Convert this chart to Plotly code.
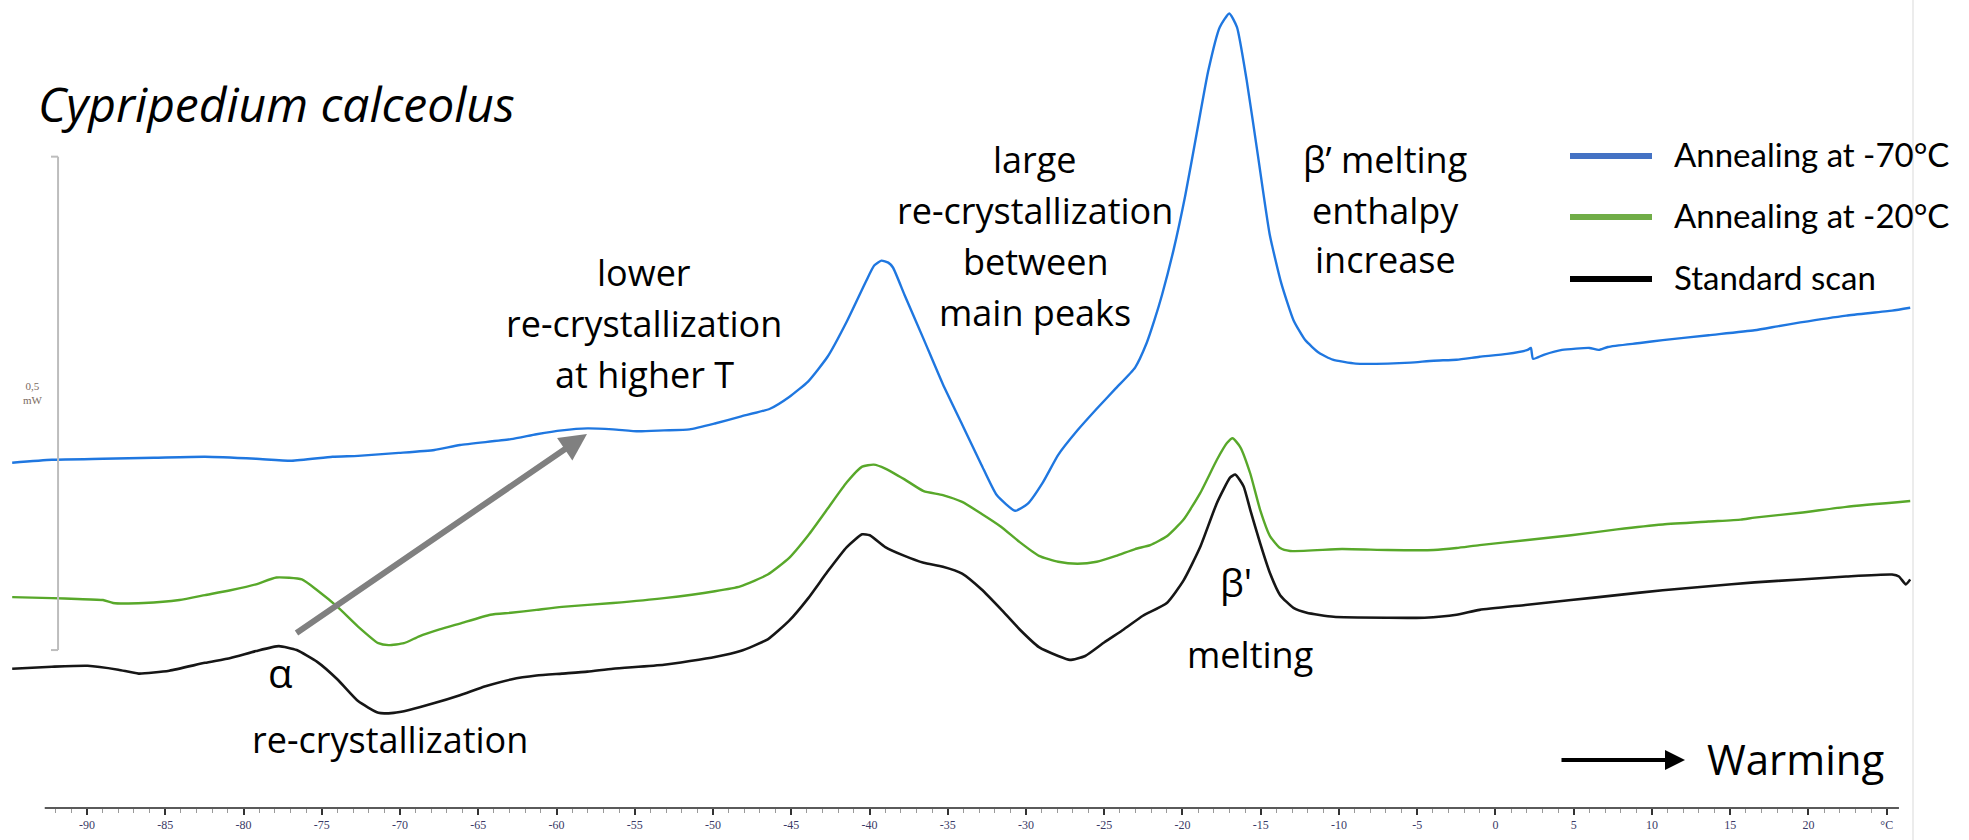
import plotly.graph_objects as go

# ---------------- data (temperature in °C, heat flow in mW, offset traces) -------------
series_names = ["Annealing at -70°C", "Annealing at -20°C", "Standard scan"]

blue_T = [-94.78, -92.24, -88.98, -85.72, -82.46, -79.20, -76.92, -74.31, -72.68, -70.07,
          -67.80, -66.17, -62.91, -61.28, -59.65, -58.02, -56.39, -54.76, -53.13, -51.50,
          -49.88, -48.25, -46.36, -45.13, -43.91, -42.68, -41.45, -40.22, -39.70, -39.24,
          -38.80, -38.50, -37.76, -36.54, -35.31, -34.08, -32.85, -31.87, -30.69, -29.90,
          -28.92, -27.94, -26.71, -25.48, -24.25, -23.03, -22.29, -21.80, -21.31, -20.57,
          -19.83, -19.10, -18.36, -17.62, -17.01, -16.52, -15.90, -15.17, -14.43, -13.69,
          -12.90, -12.16, -11.28, -10.40, -8.93, -6.88, -5.42, -3.95, -2.49, -1.02,
          0.73, 2.05, 2.26, 2.40, 3.08, 4.25, 6.00, 6.59, 7.18, 9.23,
          10.69, 13.62, 16.55, 18.01, 19.48, 22.41, 25.34, 26.50]
blue_v = [0.352, 0.355, 0.356, 0.357, 0.358, 0.356, 0.354, 0.358, 0.359, 0.362,
          0.365, 0.370, 0.376, 0.381, 0.385, 0.387, 0.386, 0.384, 0.385, 0.386,
          0.392, 0.399, 0.407, 0.419, 0.435, 0.460, 0.496, 0.537, 0.553, 0.558,
          0.556, 0.551, 0.523, 0.478, 0.432, 0.391, 0.350, 0.319, 0.303, 0.310,
          0.332, 0.360, 0.385, 0.407, 0.428, 0.449, 0.474, 0.497, 0.523, 0.569,
          0.624, 0.687, 0.751, 0.796, 0.810, 0.796, 0.742, 0.664, 0.585, 0.535,
          0.497, 0.477, 0.464, 0.457, 0.453, 0.453, 0.454, 0.456, 0.457, 0.460,
          0.463, 0.467, 0.469, 0.458, 0.462, 0.467, 0.469, 0.467, 0.470, 0.474,
          0.477, 0.482, 0.487, 0.491, 0.495, 0.502, 0.507, 0.510]

green_T = [-94.78, -92.24, -90.61, -88.98, -88.33, -86.37, -84.09, -82.46, -80.83, -79.20,
           -77.90, -76.27, -75.29, -73.99, -72.68, -71.38, -70.73, -69.75, -68.77, -67.47,
           -66.17, -64.22, -62.91, -61.28, -59.65, -56.39, -53.13, -49.88, -48.25, -46.50,
           -45.13, -43.91, -42.68, -41.45, -40.47, -39.73, -38.99, -37.76, -36.54, -35.31,
           -34.08, -32.85, -31.62, -30.40, -29.17, -27.94, -26.71, -25.48, -24.25, -23.03,
           -22.06, -21.00, -19.93, -18.87, -17.80, -17.16, -16.80, -16.31, -15.67, -15.04,
           -14.40, -13.76, -13.12, -9.81, -6.88, -3.95, -2.49, -1.02, 1.90, 4.83,
           7.76, 10.69, 13.62, 15.67, 16.55, 19.48, 22.41, 26.50]
green_v = [0.215, 0.214, 0.213, 0.212, 0.209, 0.209, 0.212, 0.217, 0.222, 0.228,
           0.235, 0.233, 0.222, 0.205, 0.185, 0.168, 0.166, 0.168, 0.175, 0.182,
           0.188, 0.197, 0.199, 0.202, 0.205, 0.209, 0.214, 0.221, 0.226, 0.238,
           0.255, 0.278, 0.305, 0.332, 0.348, 0.350, 0.346, 0.335, 0.323, 0.319,
           0.312, 0.300, 0.287, 0.271, 0.257, 0.251, 0.249, 0.251, 0.257, 0.264,
           0.268, 0.277, 0.294, 0.321, 0.355, 0.372, 0.377, 0.368, 0.341, 0.304,
           0.277, 0.265, 0.262, 0.264, 0.263, 0.263, 0.265, 0.268, 0.273, 0.278,
           0.284, 0.289, 0.292, 0.294, 0.296, 0.301, 0.307, 0.313]

black_T = [-94.78, -92.24, -89.96, -88.00, -86.70, -84.74, -82.46, -80.83, -79.20, -77.74,
           -76.60, -75.29, -73.99, -72.68, -71.38, -70.40, -69.42, -67.80, -66.17, -64.54,
           -62.91, -61.28, -59.65, -58.02, -56.39, -53.13, -49.88, -48.25, -46.50, -45.13,
           -43.91, -42.68, -41.45, -40.47, -39.98, -38.99, -37.76, -36.54, -35.31, -34.08,
           -32.85, -31.62, -30.40, -29.17, -27.94, -27.20, -26.22, -24.99, -23.76, -22.53,
           -21.00, -19.93, -18.87, -17.80, -16.95, -16.63, -16.10, -15.67, -15.04, -14.40,
           -13.76, -12.91, -12.06, -10.35, -6.88, -4.54, -2.49, -1.02, 1.90, 4.83,
           7.76, 10.69, 13.62, 16.55, 19.48, 22.41, 25.34, 25.78, 26.22, 26.50]
black_v = [0.142, 0.144, 0.145, 0.141, 0.137, 0.140, 0.148, 0.153, 0.160, 0.165,
           0.161, 0.149, 0.131, 0.109, 0.097, 0.097, 0.100, 0.107, 0.115, 0.124,
           0.131, 0.135, 0.137, 0.139, 0.142, 0.146, 0.154, 0.160, 0.172, 0.191,
           0.214, 0.241, 0.266, 0.279, 0.278, 0.266, 0.257, 0.250, 0.246, 0.239,
           0.223, 0.203, 0.182, 0.164, 0.155, 0.151, 0.155, 0.169, 0.182, 0.196,
           0.209, 0.232, 0.266, 0.311, 0.337, 0.340, 0.328, 0.304, 0.270, 0.239,
           0.217, 0.204, 0.199, 0.195, 0.194, 0.194, 0.197, 0.202, 0.207, 0.212,
           0.217, 0.222, 0.226, 0.230, 0.233, 0.236, 0.238, 0.236, 0.228, 0.233]

tick_values = [-90, -85, -80, -75, -70, -65, -60, -55, -50, -45, -40, -35, -30, -25,
               -20, -15, -10, -5, 0, 5, 10, 15, 20, 25]
tick_labels = ["-90", "-85", "-80", "-75", "-70", "-65", "-60", "-55", "-50", "-45", "-40",
               "-35", "-30", "-25", "-20", "-15", "-10", "-5", "0", "5", "10", "15", "20", "°C"]
minor_tick_values = list(range(-92, 26))

scale_bar_T = -91.85          # position of the 0.5 mW scale bar
scale_bar_v = [0.161, 0.664]  # 0.5 mW

# ---------------- figure -------------------------------------------------------------
W, H = 1969, 840
ML, MR, MT, MB = 10, 58, 0, 32
PW, PH = W - ML - MR, H - MT - MB


def paper(x, y):
    """page pixel -> paper coordinates (layout placement only)"""
    return (x - ML) / PW, (MT + PH - y) / PH


curve_colors = ["#1f77e0", "#58a82a", "#161616"]
legend_colors = ["#4472C4", "#70AD47", "#000000"]

fig = go.Figure()
for name, T, v, c, w in [(series_names[0], blue_T, blue_v, curve_colors[0], 2.4),
                         (series_names[1], green_T, green_v, curve_colors[1], 2.4),
                         (series_names[2], black_T, black_v, curve_colors[2], 2.6)]:
    fig.add_trace(go.Scatter(x=T, y=v, mode="lines", name=name, showlegend=False,
                             line=dict(color=c, width=w, shape="spline", smoothing=0.5)))

shapes = []
# x axis line
shapes.append(dict(type="line", xref="x", yref="paper", x0=-92.7, x1=25.78, y0=0, y1=0,
                   line=dict(color="#5a5a5a", width=2)))
# scale bar (bracket)
shapes.append(dict(type="line", xref="x", yref="y", x0=scale_bar_T, x1=scale_bar_T,
                   y0=scale_bar_v[0], y1=scale_bar_v[1], line=dict(color="#bdbdbd", width=2)))
for yv in scale_bar_v:
    shapes.append(dict(type="line", xref="x", yref="y", x0=scale_bar_T - 0.45, x1=scale_bar_T,
                       y0=yv, y1=yv, line=dict(color="#bdbdbd", width=2)))
# light right border
bx, _ = paper(1913, 0)
shapes.append(dict(type="line", xref="paper", yref="paper", x0=bx, x1=bx, y0=-0.04, y1=1.0,
                   line=dict(color="#ececec", width=2)))

annotations = []

# manual legend
leg_y = [156, 217, 279]
for name, col, yy in zip(series_names, legend_colors, leg_y):
    x0, y0 = paper(1570, yy)
    x1, _ = paper(1652, yy)
    shapes.append(dict(type="line", xref="paper", yref="paper", x0=x0, x1=x1, y0=y0, y1=y0,
                       line=dict(color=col, width=6)))
    tx, ty = paper(1672, yy - 2)
    annotations.append(dict(text=name, xref="paper", yref="paper", x=tx, y=ty,
                            xanchor="left", yanchor="middle", showarrow=False,
                            font=dict(family="Lato", size=33, color="black")))


def label(text, x, y, size=36, anchor="center", family="Open Sans", style="normal"):
    px_, py_ = paper(x, y)
    annotations.append(dict(text=text, xref="paper", yref="paper", x=px_, y=py_,
                            xanchor=anchor, yanchor="middle", showarrow=False,
                            font=dict(family=family, size=size, color="black", style=style)))


label("Cypripedium calceolus", 36, 103, size=48, anchor="left", style="italic")
for t, yy in [("lower", 272), ("re-crystallization", 323), ("at higher T", 374)]:
    label(t, 644, yy)
for t, yy in [("large", 160), ("re-crystallization", 210), ("between", 262), ("main peaks", 312)]:
    label(t, 1035, yy)
for t, yy in [("β’ melting", 160), ("enthalpy", 210), ("increase", 260)]:
    label(t, 1385, yy)
label("β'", 1236, 582, size=38)
label("melting", 1250, 654)
label("α", 280, 672, size=40)
label("re-crystallization", 390, 739)
label("Warming", 1705, 758, size=42, anchor="left")

# 0,5 mW label
sx, sy = paper(33, 393)
annotations.append(dict(text="0,5<br>mW", xref="paper", yref="paper", x=sx, y=sy,
                        xanchor="center", yanchor="middle", showarrow=False,
                        font=dict(family="Liberation Sans Narrow", size=11, color="#7a6a60")))

# gray arrow (lower re-crystallization at higher T)
hx, hy = paper(587, 434)
annotations.append(dict(text="", xref="paper", yref="paper", x=hx, y=hy,
                        ax=295 - 587, ay=634 - 434, showarrow=True,
                        arrowhead=2, arrowsize=0.9, arrowwidth=6, arrowcolor="#808080"))
# warming arrow
wx, wy = paper(1685, 760)
annotations.append(dict(text="", xref="paper", yref="paper", x=wx, y=wy,
                        ax=-125, ay=0, showarrow=True,
                        arrowhead=2, arrowsize=1.0, arrowwidth=4, arrowcolor="black"))

fig.update_layout(
    width=W, height=H,
    margin=dict(l=ML, r=MR, t=MT, b=MB, pad=0),
    paper_bgcolor="white", plot_bgcolor="white",
    showlegend=False,
    xaxis=dict(range=[-94.92, 26.55], showgrid=False, zeroline=False, showline=False,
               tickmode="array", tickvals=tick_values, ticktext=tick_labels,
               ticks="outside", ticklen=6, tickwidth=1.5, tickcolor="#333333",
               tickfont=dict(family="Liberation Sans Narrow", size=12, color="#3a3a66"),
               minor=dict(tickmode="array", tickvals=minor_tick_values, ticks="outside",
                          ticklen=4, tickwidth=1, tickcolor="#9a9a9a", showgrid=False),
               fixedrange=True),
    yaxis=dict(range=[0, 0.8237], visible=False, fixedrange=True),
    shapes=shapes,
    annotations=annotations,
)

fig.write_html("out.html", config={"displayModeBar": False},
               post_script="document.body.style.margin='0';document.body.style.overflow='hidden';")
